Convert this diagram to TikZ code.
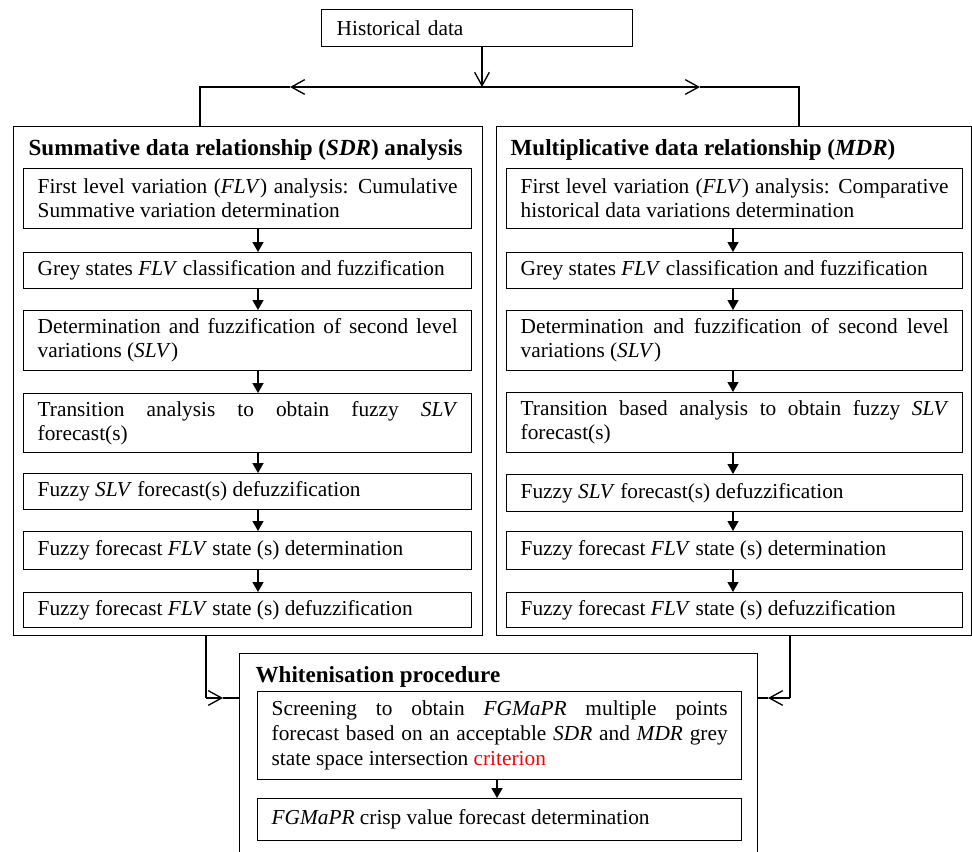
\documentclass[tikz,border=0pt]{standalone}
\usepackage{fontspec}
\setmainfont{Liberation Serif}
\usetikzlibrary{arrows.meta}
\begin{document}
\begin{tikzpicture}[x=0.75pt,y=-0.75pt,
  line width=1pt,
  stepbox/.style={draw, anchor=north west, inner sep=0pt, align=justify,
    font=\fontsize{16}{18}\selectfont},
  lbox/.style={stepbox, minimum width=336pt, text width=315pt},
  rbox/.style={stepbox, minimum width=342pt, text width=321pt},
  wbox/.style={stepbox, minimum width=363pt, text width=342pt},
  frame/.style={draw, anchor=north west, inner sep=0pt},
  title/.style={anchor=base west, inner sep=0pt, font=\fontsize{17.3}{20}\selectfont\bfseries},
  flow/.style={-{Triangle[length=7.5pt,width=8.25pt]}},
  split/.style={-{Straight Barb[length=10pt,width=11pt]}},
]
\useasboundingbox (0,0) rectangle (972,851);

% top box
\node[stepbox, align=left, minimum width=233.25pt, minimum height=27.75pt, text width=210.75pt] (hist) at (321,9) {Historical data};

% outer frames
\node[frame, minimum width=351.75pt, minimum height=381.75pt] (sdr) at (13,126) {};
\node[frame, minimum width=356.25pt, minimum height=381.75pt] (mdr) at (496,126) {};
\node[frame, minimum width=388.5pt, minimum height=155.25pt] (wp) at (239,653) {};

\node[title] (sdrt) at (28,155) {Summative data relationship (\textit{SDR}) analysis};
\node[title] (mdrt) at (510,155) {Multiplicative data relationship (\textit{MDR})};
\node[title] (wpt) at (255,682) {Whitenisation procedure};

% left column
\node[lbox, minimum height=45pt] (L1) at (23,168) {First level variation (\textit{FLV}) analysis: Cumulative\linebreak Summative variation determination};
\node[lbox, minimum height=27pt] (L2) at (23,252) {Grey states \textit{FLV} classification and fuzzification};
\node[lbox, minimum height=45pt] (L3) at (23,310) {Determination and fuzzification of second level\linebreak variations (\textit{SLV})};
\node[lbox, minimum height=44.25pt] (L4) at (23,393) {Transition analysis to obtain fuzzy \textit{SLV}\linebreak forecast(s)};
\node[lbox, minimum height=27pt] (L5) at (23,473) {Fuzzy \textit{SLV} forecast(s) defuzzification};
\node[lbox, minimum height=28.5pt] (L6) at (23,531) {Fuzzy forecast \textit{FLV} state (s) determination};
\node[lbox, minimum height=26.25pt] (L7) at (23,592) {Fuzzy forecast \textit{FLV} state (s) defuzzification};

% right column
\node[rbox, minimum height=45pt] (R1) at (506,168) {First level variation (\textit{FLV}) analysis: Comparative\linebreak historical data variations determination};
\node[rbox, minimum height=27pt] (R2) at (506,252) {Grey states \textit{FLV} classification and fuzzification};
\node[rbox, minimum height=45pt] (R3) at (506,310) {Determination and fuzzification of second level\linebreak variations (\textit{SLV})};
\node[rbox, minimum height=45pt] (R4) at (506,392) {Transition based analysis to obtain fuzzy \textit{SLV}\linebreak forecast(s)};
\node[rbox, minimum height=27.75pt] (R5) at (506,474) {Fuzzy \textit{SLV} forecast(s) defuzzification};
\node[rbox, minimum height=28.5pt] (R6) at (506,531) {Fuzzy forecast \textit{FLV} state (s) determination};
\node[rbox, minimum height=26.25pt] (R7) at (506,592) {Fuzzy forecast \textit{FLV} state (s) defuzzification};

% whitenisation
\node[wbox, minimum height=66pt, font=\fontsize{16}{18.75}\selectfont] (W1) at (257,691) {Screening to obtain \textit{FGMaPR} multiple points\linebreak forecast based on an acceptable \textit{SDR} and \textit{MDR} grey\linebreak state space intersection \textcolor{red}{criterion}};
\node[wbox, minimum height=31.5pt] (W2) at (257,798) {\textit{FGMaPR} crisp value forecast determination};

% column arrows
\coordinate (axl) at (258,0);
\coordinate (axr) at (733,0);
\coordinate (axw) at (497,0);
\foreach \a/\b in {L1/L2,L2/L3,L3/L4,L4/L5,L5/L6,L6/L7}
  \draw[flow] (\a.south -| axl) -- (\b.north -| axl);
\foreach \a/\b in {R1/R2,R2/R3,R3/R4,R4/R5,R5/R6,R6/R7}
  \draw[flow] (\a.south -| axr) -- (\b.north -| axr);
\draw[flow] (W1.south -| axw) -- (W2.north -| axw);

% split from historical data
\coordinate (sp) at (482,87);
\coordinate (la) at (290,87);
\coordinate (lc) at (200,87);
\coordinate (ra) at (700,87);
\coordinate (rc) at (799,87);
\draw[split] (sp |- hist.south) -- (sp);
\draw[split] (sp) -- (la);
\draw (la) -- (lc) -- (lc |- sdr.north);
\draw[split] (sp) -- (ra);
\draw (ra) -- (rc) -- (rc |- mdr.north);

% merge into whitenisation
\coordinate (bl) at (206,698);
\coordinate (bla) at (223,698);
\coordinate (br) at (790,698);
\coordinate (bra) at (768,698);
\draw (bl |- sdr.south) -- (bl);
\draw[split] (bl) -- (bla);
\draw (bla) -- (bla -| wp.west);
\draw (br |- mdr.south) -- (br);
\draw[split] (br) -- (bra);
\draw (bra) -- (bra -| wp.east);
\end{tikzpicture}
\end{document}
